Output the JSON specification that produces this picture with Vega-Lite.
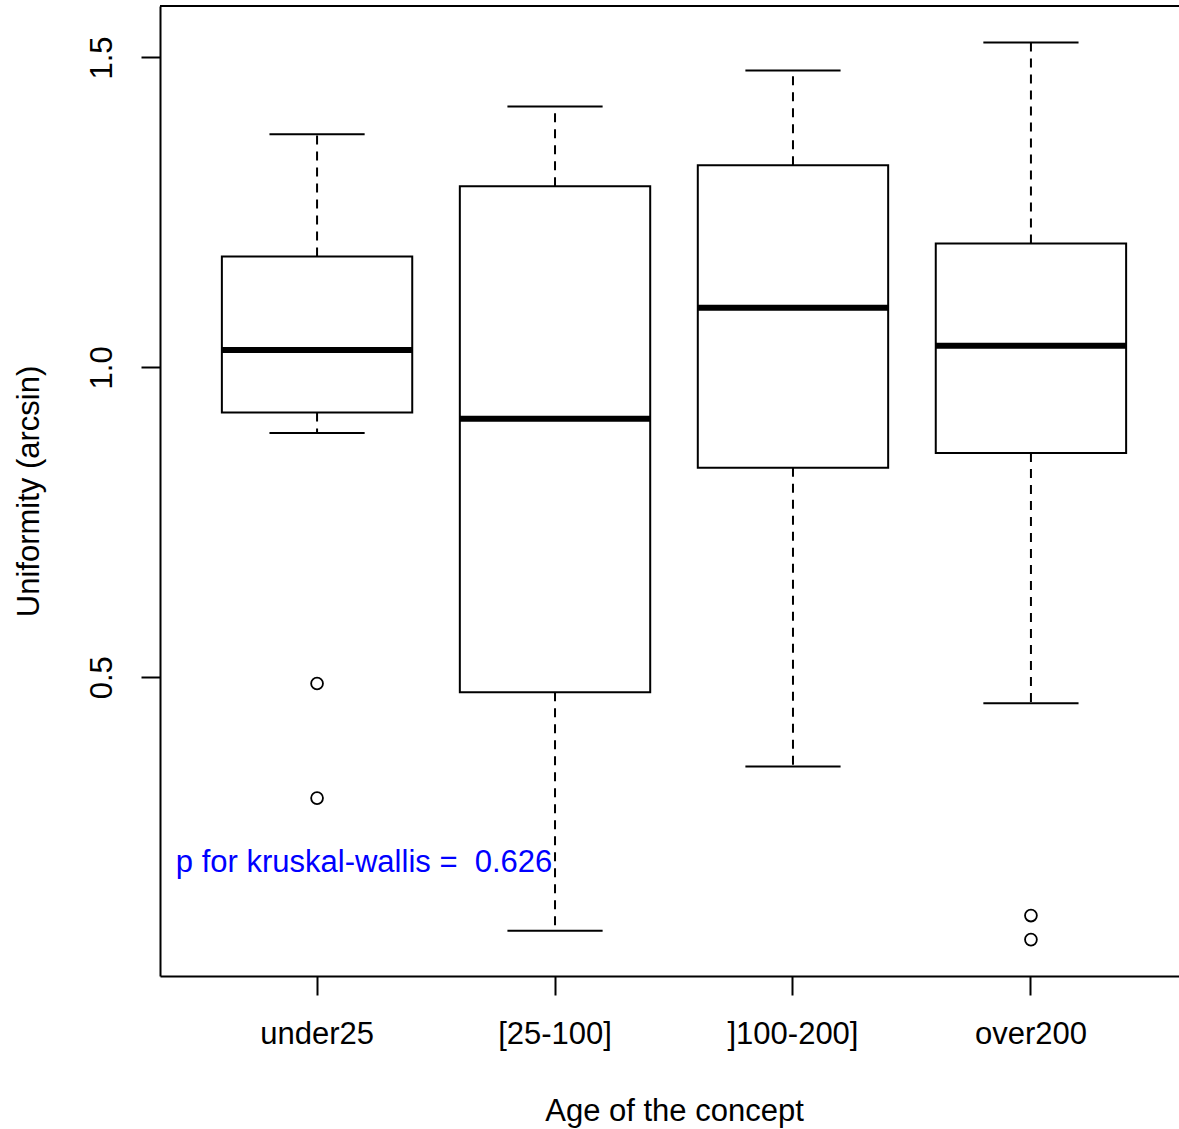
{
  "$schema": "https://vega.github.io/schema/vega-lite/v6.json",
  "autosize": {"type": "none"},
  "width": 1019,
  "height": 970,
  "padding": {"left": 160, "top": 6, "right": 0, "bottom": 153},
  "background": "white",
  "config": {
    "view": {"stroke": null},
    "font": "Liberation Sans",
    "axis": {"grid": false}
  },
  "datasets": {
    "stats": [
      {"group": "under25", "lower": 0.894, "q1": 0.927, "median": 1.028, "q3": 1.179, "upper": 1.376},
      {"group": "[25-100]", "lower": 0.091, "q1": 0.476, "median": 0.917, "q3": 1.292, "upper": 1.421},
      {"group": "]100-200]", "lower": 0.356, "q1": 0.838, "median": 1.096, "q3": 1.326, "upper": 1.479},
      {"group": "over200", "lower": 0.458, "q1": 0.862, "median": 1.035, "q3": 1.2, "upper": 1.524}
    ],
    "outliers": [
      {"group": "under25", "value": 0.49},
      {"group": "under25", "value": 0.305},
      {"group": "over200", "value": 0.1155},
      {"group": "over200", "value": 0.0767}
    ],
    "note": [
      {"group": "under25", "value": 0.2, "label": "p for kruskal-wallis = \u00a00.626"}
    ],
    "frame": [{"top": 1.583}]
  },
  "layer": [
    {
      "data": {"name": "stats"},
      "mark": {"type": "rule", "stroke": "black", "strokeWidth": 2, "strokeDash": [9, 7]},
      "encoding": {
        "x": {
          "field": "group", "type": "nominal",
          "sort": ["under25", "[25-100]", "]100-200]", "over200"],
          "scale": {"domain": ["under25", "[25-100]", "]100-200]", "over200"], "range": [0, 1028], "paddingInner": 0.2, "paddingOuter": 0.26},
          "axis": {
            "title": "Age of the concept",
            "titleFontSize": 31, "titleFontWeight": "normal", "titleColor": "black", "titlePadding": 47,
            "labelFontSize": 31, "labelColor": "black", "labelAngle": 0, "labelPadding": 24,
            "domainColor": "black", "domainWidth": 2,
            "tickColor": "black", "tickWidth": 2, "tickSize": 19
          }
        },
        "y": {
          "field": "q3", "type": "quantitative",
          "scale": {"domain": [0.018, 1.583], "nice": false, "zero": false},
          "axis": {
            "title": "Uniformity (arcsin)",
            "titleFontSize": 31, "titleFontWeight": "normal", "titleColor": "black", "titlePadding": 41,
            "values": [0.5, 1.0, 1.5], "format": ".1f",
            "labelFontSize": 31, "labelColor": "black", "labelAngle": -90,
            "labelAlign": "center", "labelBaseline": "bottom", "labelPadding": 23,
            "domainColor": "black", "domainWidth": 2,
            "tickColor": "black", "tickWidth": 2, "tickSize": 19
          }
        },
        "y2": {"field": "upper"}
      }
    },
    {
      "data": {"name": "stats"},
      "mark": {"type": "rule", "stroke": "black", "strokeWidth": 2, "strokeDash": [9, 7]},
      "encoding": {
        "x": {"field": "group", "type": "nominal"},
        "y": {"field": "q1", "type": "quantitative"},
        "y2": {"field": "lower"}
      }
    },
    {
      "data": {"name": "stats"},
      "mark": {"type": "bar", "fill": "white", "stroke": "black", "strokeWidth": 2, "width": {"band": 0.5}},
      "encoding": {
        "x": {"field": "group", "type": "nominal"},
        "y": {"field": "upper", "type": "quantitative"},
        "y2": {"field": "upper"}
      }
    },
    {
      "data": {"name": "stats"},
      "mark": {"type": "bar", "fill": "white", "stroke": "black", "strokeWidth": 2, "width": {"band": 0.5}},
      "encoding": {
        "x": {"field": "group", "type": "nominal"},
        "y": {"field": "lower", "type": "quantitative"},
        "y2": {"field": "lower"}
      }
    },
    {
      "data": {"name": "stats"},
      "mark": {"type": "bar", "fill": "white", "stroke": "black", "strokeWidth": 2},
      "encoding": {
        "x": {"field": "group", "type": "nominal"},
        "y": {"field": "q1", "type": "quantitative"},
        "y2": {"field": "q3"}
      }
    },
    {
      "data": {"name": "stats"},
      "mark": {"type": "bar", "fill": "black", "stroke": "black", "strokeWidth": 6},
      "encoding": {
        "x": {"field": "group", "type": "nominal"},
        "y": {"field": "median", "type": "quantitative"},
        "y2": {"field": "median"}
      }
    },
    {
      "data": {"name": "outliers"},
      "mark": {"type": "point", "shape": "circle", "filled": false, "stroke": "black", "strokeWidth": 1.8, "size": 140, "opacity": 1},
      "encoding": {
        "x": {"field": "group", "type": "nominal"},
        "y": {"field": "value", "type": "quantitative"}
      }
    },
    {
      "data": {"name": "note"},
      "mark": {"type": "text", "color": "blue", "fontSize": 31, "align": "center", "baseline": "middle", "dx": 47},
      "encoding": {
        "x": {"field": "group", "type": "nominal"},
        "y": {"field": "value", "type": "quantitative"},
        "text": {"field": "label"}
      }
    },
    {
      "data": {"name": "frame"},
      "mark": {"type": "rule", "stroke": "black", "strokeWidth": 2},
      "encoding": {
        "y": {"field": "top", "type": "quantitative"}
      }
    }
  ]
}
